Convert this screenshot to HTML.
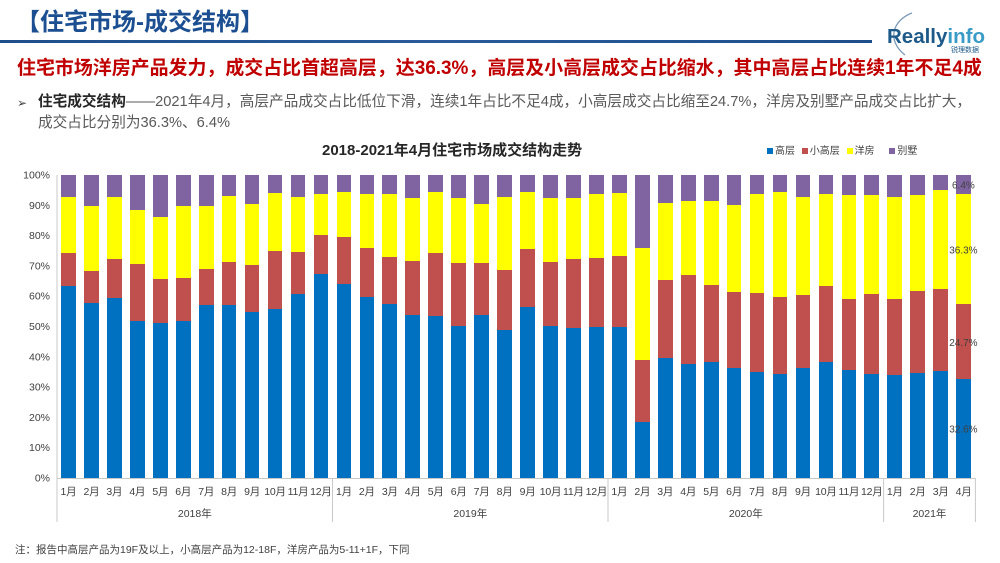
<!DOCTYPE html>
<html><head><meta charset="utf-8">
<style>
*{margin:0;padding:0;box-sizing:border-box}
body{width:1000px;height:563px;background:#fff;position:relative;overflow:hidden;font-family:"Liberation Sans","Noto Sans CJK SC",sans-serif}
.abs{position:absolute;white-space:nowrap}
#plot{position:absolute;left:57px;top:175px;width:918.4px;height:303px;display:flex}
.c{flex:1;position:relative}
.c i{position:absolute;left:4.13px;width:14.7px;display:block}
.c .p{top:0;bottom:calc(var(--y)*1%);background:#8064a2}
.c .yl{bottom:calc(var(--r)*1%);height:calc((var(--y) - var(--r))*1%);background:#ffff00}
.c .rd{bottom:calc(var(--b)*1%);height:calc((var(--r) - var(--b))*1%);background:#c0504d}
.c .bl{bottom:0;height:calc(var(--b)*1%);background:#0070c0}
#months{position:absolute;left:57px;top:484px;width:918.4px;display:flex;font-size:10.5px;color:#404040;line-height:16px}
#months span{flex:1;text-align:center;white-space:nowrap;letter-spacing:-0.2px}
</style></head>
<body>
<div class="abs" style="left:16px;top:7px;font-size:24px;line-height:32px;font-weight:bold;color:#1c4f91">【住宅市场-成交结构】</div>
<div class="abs" style="left:0;top:40px;width:872px;height:3px;background:linear-gradient(90deg,#1f4e8c,#2a5a9a 50%,#1f4e8c)"></div>
<svg class="abs" style="left:0;top:0" width="1000" height="60">
<path d="M912 13 C 893 20, 886 40, 905 55" fill="none" stroke="#7a9ab8" stroke-width="1.3"/>
<text x="887" y="43" font-family="Liberation Sans" font-weight="bold" font-size="20.5" fill="#1d5a8a">Really<tspan fill="#3a9cc6">info</tspan></text>
<text x="951" y="52" font-family="Noto Sans CJK SC" font-size="7" fill="#1d5a8a">锐理数据</text>
</svg>
<div class="abs" style="left:17px;top:57px;font-size:18.95px;line-height:24px;font-weight:bold;color:#c00000">住宅市场洋房产品发力，成交占比首超高层，达36.3%，高层及小高层成交占比缩水，其中高层占比连续1年不足4成</div>
<div class="abs" style="left:17px;top:93px;font-size:12px;line-height:20px;color:#404040">➢</div>
<div class="abs" style="left:38px;top:92px;font-size:14.65px;line-height:21px;color:#595959">
<b style="color:#262626">住宅成交结构</b>——2021年4月，高层产品成交占比低位下滑，连续1年占比不足4成，小高层成交占比缩至24.7%，洋房及别墅产品成交占比扩大，<br>成交占比分别为36.3%、6.4%</div>

<div class="abs" style="left:322px;top:141px;font-size:15px;line-height:20px;font-weight:bold;color:#262626">2018-2021年4月住宅市场成交结构走势</div>
<div class="abs" style="left:767px;top:144px;font-size:10px;line-height:16px;color:#404040">
<span style="display:inline-block;width:6px;height:6px;background:#0070c0;margin-right:2px"></span>高层
<span style="display:inline-block;width:6px;height:6px;background:#c0504d;margin:0 2px 0 4px"></span>小高层
<span style="display:inline-block;width:6px;height:6px;background:#ffff00;margin:0 2px 0 4px"></span>洋房
<span style="display:inline-block;width:6px;height:6px;background:#8064a2;margin:0 2px 0 12px"></span>别墅</div>

<div id="plot">
<div class="c" style="--b:63.5;--r:74.2;--y:92.8"><i class="p"></i><i class="yl"></i><i class="rd"></i><i class="bl"></i></div>
<div class="c" style="--b:57.6;--r:68.3;--y:89.9"><i class="p"></i><i class="yl"></i><i class="rd"></i><i class="bl"></i></div>
<div class="c" style="--b:59.3;--r:72.3;--y:92.6"><i class="p"></i><i class="yl"></i><i class="rd"></i><i class="bl"></i></div>
<div class="c" style="--b:51.9;--r:70.5;--y:88.3"><i class="p"></i><i class="yl"></i><i class="rd"></i><i class="bl"></i></div>
<div class="c" style="--b:51.3;--r:65.7;--y:86.0"><i class="p"></i><i class="yl"></i><i class="rd"></i><i class="bl"></i></div>
<div class="c" style="--b:51.7;--r:65.9;--y:89.7"><i class="p"></i><i class="yl"></i><i class="rd"></i><i class="bl"></i></div>
<div class="c" style="--b:57.0;--r:69.1;--y:89.7"><i class="p"></i><i class="yl"></i><i class="rd"></i><i class="bl"></i></div>
<div class="c" style="--b:57.1;--r:71.4;--y:93.2"><i class="p"></i><i class="yl"></i><i class="rd"></i><i class="bl"></i></div>
<div class="c" style="--b:54.9;--r:70.3;--y:90.4"><i class="p"></i><i class="yl"></i><i class="rd"></i><i class="bl"></i></div>
<div class="c" style="--b:55.8;--r:75.0;--y:94.1"><i class="p"></i><i class="yl"></i><i class="rd"></i><i class="bl"></i></div>
<div class="c" style="--b:60.6;--r:74.5;--y:92.6"><i class="p"></i><i class="yl"></i><i class="rd"></i><i class="bl"></i></div>
<div class="c" style="--b:67.2;--r:80.1;--y:93.7"><i class="p"></i><i class="yl"></i><i class="rd"></i><i class="bl"></i></div>
<div class="c" style="--b:63.9;--r:79.6;--y:94.5"><i class="p"></i><i class="yl"></i><i class="rd"></i><i class="bl"></i></div>
<div class="c" style="--b:59.8;--r:75.8;--y:93.6"><i class="p"></i><i class="yl"></i><i class="rd"></i><i class="bl"></i></div>
<div class="c" style="--b:57.5;--r:73.0;--y:93.6"><i class="p"></i><i class="yl"></i><i class="rd"></i><i class="bl"></i></div>
<div class="c" style="--b:53.9;--r:71.7;--y:92.3"><i class="p"></i><i class="yl"></i><i class="rd"></i><i class="bl"></i></div>
<div class="c" style="--b:53.6;--r:74.4;--y:94.3"><i class="p"></i><i class="yl"></i><i class="rd"></i><i class="bl"></i></div>
<div class="c" style="--b:50.2;--r:71.1;--y:92.3"><i class="p"></i><i class="yl"></i><i class="rd"></i><i class="bl"></i></div>
<div class="c" style="--b:53.8;--r:71.1;--y:90.3"><i class="p"></i><i class="yl"></i><i class="rd"></i><i class="bl"></i></div>
<div class="c" style="--b:48.7;--r:68.5;--y:92.7"><i class="p"></i><i class="yl"></i><i class="rd"></i><i class="bl"></i></div>
<div class="c" style="--b:56.4;--r:75.5;--y:94.5"><i class="p"></i><i class="yl"></i><i class="rd"></i><i class="bl"></i></div>
<div class="c" style="--b:50.2;--r:71.4;--y:92.3"><i class="p"></i><i class="yl"></i><i class="rd"></i><i class="bl"></i></div>
<div class="c" style="--b:49.4;--r:72.3;--y:92.5"><i class="p"></i><i class="yl"></i><i class="rd"></i><i class="bl"></i></div>
<div class="c" style="--b:49.9;--r:72.6;--y:93.6"><i class="p"></i><i class="yl"></i><i class="rd"></i><i class="bl"></i></div>
<div class="c" style="--b:49.7;--r:73.2;--y:94.1"><i class="p"></i><i class="yl"></i><i class="rd"></i><i class="bl"></i></div>
<div class="c" style="--b:18.6;--r:38.8;--y:75.8"><i class="p"></i><i class="yl"></i><i class="rd"></i><i class="bl"></i></div>
<div class="c" style="--b:39.6;--r:65.3;--y:90.8"><i class="p"></i><i class="yl"></i><i class="rd"></i><i class="bl"></i></div>
<div class="c" style="--b:37.6;--r:67.0;--y:91.5"><i class="p"></i><i class="yl"></i><i class="rd"></i><i class="bl"></i></div>
<div class="c" style="--b:38.2;--r:63.7;--y:91.5"><i class="p"></i><i class="yl"></i><i class="rd"></i><i class="bl"></i></div>
<div class="c" style="--b:36.4;--r:61.3;--y:90.0"><i class="p"></i><i class="yl"></i><i class="rd"></i><i class="bl"></i></div>
<div class="c" style="--b:35.1;--r:61.0;--y:93.6"><i class="p"></i><i class="yl"></i><i class="rd"></i><i class="bl"></i></div>
<div class="c" style="--b:34.4;--r:59.8;--y:94.5"><i class="p"></i><i class="yl"></i><i class="rd"></i><i class="bl"></i></div>
<div class="c" style="--b:36.2;--r:60.5;--y:92.6"><i class="p"></i><i class="yl"></i><i class="rd"></i><i class="bl"></i></div>
<div class="c" style="--b:38.2;--r:63.5;--y:93.6"><i class="p"></i><i class="yl"></i><i class="rd"></i><i class="bl"></i></div>
<div class="c" style="--b:35.6;--r:59.2;--y:93.4"><i class="p"></i><i class="yl"></i><i class="rd"></i><i class="bl"></i></div>
<div class="c" style="--b:34.4;--r:60.7;--y:93.4"><i class="p"></i><i class="yl"></i><i class="rd"></i><i class="bl"></i></div>
<div class="c" style="--b:34.0;--r:59.0;--y:92.6"><i class="p"></i><i class="yl"></i><i class="rd"></i><i class="bl"></i></div>
<div class="c" style="--b:34.7;--r:61.7;--y:93.4"><i class="p"></i><i class="yl"></i><i class="rd"></i><i class="bl"></i></div>
<div class="c" style="--b:35.2;--r:62.4;--y:95.0"><i class="p"></i><i class="yl"></i><i class="rd"></i><i class="bl"></i></div>
<div class="c" style="--b:32.6;--r:57.3;--y:93.6"><i class="p"></i><i class="yl"></i><i class="rd"></i><i class="bl"></i></div>
</div>

<svg class="abs" style="left:0;top:0" width="1000" height="563" font-family="Liberation Sans, Noto Sans CJK SC, sans-serif">
<g stroke="#c8c8c8" stroke-width="1">
<line x1="57" y1="175" x2="57" y2="522"/>
<line x1="57" y1="478.5" x2="975.4" y2="478.5"/>
<line x1="332.5" y1="478" x2="332.5" y2="522"/>
<line x1="608" y1="478" x2="608" y2="522"/>
<line x1="883.6" y1="478" x2="883.6" y2="522"/>
<line x1="975.4" y1="478" x2="975.4" y2="522"/>
</g>
<g font-size="10.5" fill="#404040" text-anchor="end">
<text x="50" y="178.5">100%</text>
<text x="50" y="208.8">90%</text>
<text x="50" y="239.1">80%</text>
<text x="50" y="269.4">70%</text>
<text x="50" y="299.7">60%</text>
<text x="50" y="330">50%</text>
<text x="50" y="360.3">40%</text>
<text x="50" y="390.6">30%</text>
<text x="50" y="420.9">20%</text>
<text x="50" y="451.2">10%</text>
<text x="50" y="481.5">0%</text>
</g>
<g font-size="10" fill="#404040" text-anchor="middle">
<text x="963.4" y="188.5">6.4%</text>
<text x="963.4" y="253.5">36.3%</text>
<text x="963.4" y="346">24.7%</text>
<text x="963.4" y="432.5">32.6%</text>
</g>
<g font-size="10.5" fill="#404040" text-anchor="middle">
<text x="194.8" y="517">2018年</text>
<text x="470.3" y="517">2019年</text>
<text x="745.8" y="517">2020年</text>
<text x="929.5" y="517">2021年</text>
</g>
</svg>

<div id="months">
<span>1月</span><span>2月</span><span>3月</span><span>4月</span><span>5月</span><span>6月</span><span>7月</span><span>8月</span><span>9月</span><span>10月</span><span>11月</span><span>12月</span>
<span>1月</span><span>2月</span><span>3月</span><span>4月</span><span>5月</span><span>6月</span><span>7月</span><span>8月</span><span>9月</span><span>10月</span><span>11月</span><span>12月</span>
<span>1月</span><span>2月</span><span>3月</span><span>4月</span><span>5月</span><span>6月</span><span>7月</span><span>8月</span><span>9月</span><span>10月</span><span>11月</span><span>12月</span>
<span>1月</span><span>2月</span><span>3月</span><span>4月</span>
</div>

<div class="abs" style="left:15px;top:542px;font-size:10.5px;line-height:16px;color:#404040">注：报告中高层产品为19F及以上，小高层产品为12-18F，洋房产品为5-11+1F，下同</div>
</body></html>
